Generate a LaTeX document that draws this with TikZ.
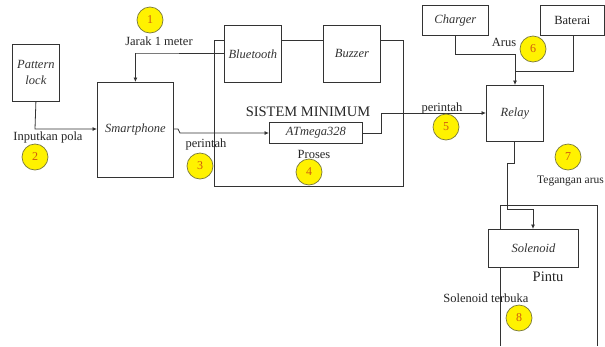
\documentclass[tikz,border=0pt]{standalone}
\usepackage{fontspec}
\setmainfont{Liberation Serif}
\usetikzlibrary{arrows.meta}
\definecolor{numfill}{HTML}{FFF200}
\definecolor{numdraw}{HTML}{7A7A3A}
\definecolor{numtext}{HTML}{D05A10}
\definecolor{ln}{HTML}{333333}
\tikzset{
  blk/.style={draw=ln, line width=0.8pt, fill=white, inner sep=0pt, anchor=north west},
  lbl/.style={font=\fontsize{12.5}{14}\selectfont, inner sep=0pt, text=black!85},
  big/.style={font=\fontsize{14.5}{16}\selectfont, inner sep=0pt, text=black!85},
  itl/.style={font=\fontsize{12.5}{16}\selectfont\itshape, text=black!80},
  num/.style={circle, draw=numdraw, fill=numfill, line width=0.7pt, minimum size=26pt, inner sep=0pt, text=numtext, font=\fontsize{12}{14}\selectfont},
  wire/.style={draw=ln, line width=0.8pt},
  arr/.style={wire, -{Latex[length=4.5pt,width=4pt]}}
}
\begin{document}
\begin{tikzpicture}[x=1pt,y=-1pt]
\useasboundingbox (0,0) rectangle (605,346);
\fill[white] (0,0) rectangle (605,346);
% frames
\draw[wire] (214,40) rectangle (403,186);
\draw[wire] (500,346) -- (500,205) -- (597,205) -- (597,346);
% boxes
\node[blk, minimum width=47pt, minimum height=57pt] (pl) at (12,44) {};
\node[itl, align=center] at (pl.center) {Pattern\\lock};
\node[blk, minimum width=76pt, minimum height=95pt] (sp) at (97,82) {};
\node[itl] at (sp.center) {Smartphone};
\node[blk, minimum width=57pt, minimum height=57pt] (bt) at (224,25) {};
\node[itl] at (bt.center) {Bluetooth};
\node[blk, minimum width=57pt, minimum height=57pt] (bz) at (323,25) {};
\node[itl] at (bz.center) {Buzzer};
\node[blk, minimum width=93pt, minimum height=21pt] (at) at (269,122) {};
\node[itl] at (at.center) {ATmega328};
\node[blk, minimum width=57pt, minimum height=56pt] (rl) at (486,85) {};
\node[itl] at (rl.center) {Relay};
\node[blk, minimum width=66pt, minimum height=30pt] (ch) at (422,5) {};
\node[itl] at (ch.center) {Charger};
\node[blk, minimum width=64pt, minimum height=30pt] (bat) at (540,5) {};
\node[lbl] at (bat.center) {Baterai};
\node[blk, minimum width=90pt, minimum height=38pt] (sol) at (488,229) {};
\node[itl] at (sol.center) {Solenoid};
% coordinates
\coordinate (c1) at (135,53);
\coordinate (c2) at (35,129);
\coordinate (c3a) at (178,129);
\coordinate (c3b) at (180,133);
\coordinate (c4a) at (381,133);
\coordinate (c4b) at (381,113);
\coordinate (c5a) at (455,54);
\coordinate (c5b) at (515,54);
\coordinate (c6a) at (573,71);
\coordinate (c6b) at (515,71);
\coordinate (c7a) at (514,163);
\coordinate (c7b) at (507,163);
\coordinate (c7c) at (507,209);
\coordinate (c7d) at (533,209);
% connectors
\draw[arr] (bt.west |- c1) -- (c1) -- (c1 -| sp.north) -- (sp.north);
\draw[arr] (pl.south) -- (c2) -- (sp.west |- c2);
\draw[arr] (sp.east |- c3a) -- (c3a) -- (c3b) -- (at.west |- c3b);
\draw[arr] (at.east |- c4a) -- (c4a) -- (c4b) -- (rl.west |- c4b);
\draw[wire] (c5a |- ch.south) -- (c5a) -- (c5b);
\draw[wire] (c6a |- bat.south) -- (c6a) -- (c6b);
\draw[arr] (c5b) -- (rl.north -| c5b);
\draw[arr] (rl.south -| c7a) -- (c7a) -- (c7b) -- (c7c) -- (c7d) -- (sol.north -| c7d);
% labels
\node[lbl] (t1) at (159,41) {Jarak 1 meter};
\node[lbl] (t2) at (48,137) {Inputkan pola};
\node[lbl] (t3) at (206,144) {perintah};
\node[big] (t4) at (308,112) {SISTEM MINIMUM};
\node[lbl] (t5) at (314,154) {Proses};
\node[lbl] (t6) at (442,108) {perintah};
\node[lbl] (t7) at (504,42) {Arus};
\node[lbl, font=\fontsize{11.5}{13}\selectfont, anchor=east] (t8) at (604,181) {Tegangan arus};
\node[big] (t9) at (548,277) {Pintu};
\node[lbl] (t10) at (486,298) {Solenoid terbuka};
% numbers
\node[num] (n1) at (150,20) {1};
\node[num] (n2) at (35,157) {2};
\node[num] (n3) at (200,166) {3};
\node[num] (n4) at (309,172) {4};
\node[num] (n5) at (446,127) {5};
\node[num] (n6) at (533,49) {6};
\node[num] (n7) at (568,157) {7};
\node[num] (n8) at (519,318) {8};
\end{tikzpicture}
\end{document}
